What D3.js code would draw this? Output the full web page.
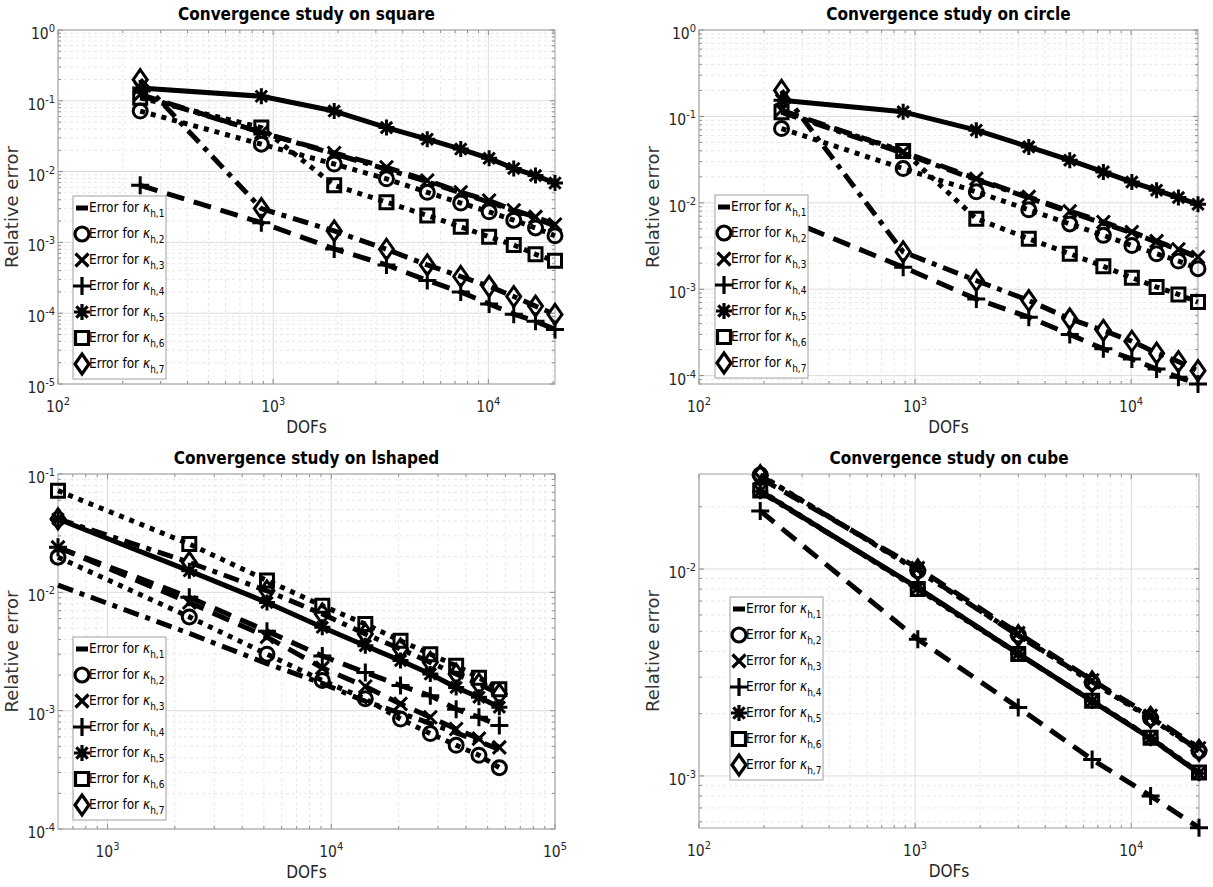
<!DOCTYPE html>
<html>
<head>
<meta charset="utf-8">
<script src="https://cdn.jsdelivr.net/npm/d3@7"></script>
<style>
  body { margin: 0; background: #fff; }
  svg { display: block; }
</style>
</head>
<body>
<svg id="fig" width="1213" height="887"></svg>
<script>
// ---- data ----
var dofsSquare = [241, 881, 1921, 3361, 5201, 7441, 10081, 13121, 16561, 20401];
var dofsCircle = [241, 881, 1921, 3361, 5201, 7441, 10081, 13121, 16561, 20401];
var dofsLshaped = [601, 2321, 5161, 9121, 14201, 20401, 27721, 36161, 45721, 56401];
var dofsCube = [192, 1029, 3000, 6591, 12288, 20577];

// relative error, one row per kappa_{h,1..7}
var errSquare = [
    [0.118, 0.036, 0.0178, 0.0108, 0.0072, 0.005, 0.0037, 0.0028, 0.0022, 0.0017],
    [0.0716, 0.0244, 0.0128, 0.0079, 0.0051, 0.0036, 0.0027, 0.00206, 0.0016, 0.00124],
    [0.123, 0.0356, 0.0183, 0.0115, 0.0075, 0.0051, 0.0039, 0.00284, 0.00229, 0.00179],
    [0.0064, 0.0019, 0.00081, 0.00048, 0.00029, 0.0002, 0.000135, 0.000097, 0.000077, 0.000059],
    [0.152, 0.116, 0.0716, 0.0418, 0.0287, 0.0208, 0.0154, 0.0111, 0.0088, 0.0069],
    [0.11, 0.0418, 0.0064, 0.0037, 0.0024, 0.00166, 0.0012, 0.00092, 0.00068, 0.00055],
    [0.199, 0.003, 0.00145, 0.0008, 0.00048, 0.00033, 0.00024, 0.000172, 0.000126, 0.000096]
];
var errCircle = [
    [0.112, 0.0375, 0.0185, 0.0114, 0.0078, 0.0058, 0.0045, 0.0035, 0.0029, 0.0023],
    [0.0724, 0.0249, 0.0134, 0.0083, 0.0057, 0.0042, 0.0032, 0.00257, 0.00212, 0.00173],
    [0.118, 0.0388, 0.019, 0.0117, 0.008, 0.006, 0.0046, 0.0036, 0.0029, 0.00236],
    [0.0068, 0.0018, 0.00077, 0.000475, 0.0003, 0.000204, 0.000156, 0.000119, 0.0000957, 0.00008],
    [0.154, 0.113, 0.0693, 0.0444, 0.0311, 0.0228, 0.0174, 0.014, 0.0115, 0.0096],
    [0.112, 0.0399, 0.00655, 0.00384, 0.00257, 0.00184, 0.00136, 0.00106, 0.00087, 0.00071],
    [0.2, 0.0027, 0.00126, 0.00074, 0.000454, 0.000333, 0.00025, 0.000182, 0.000145, 0.000114]
];
var errLshaped = [
    [0.0115, 0.0045, 0.0025, 0.0017, 0.0012, 0.00095, 0.00078, 0.00065, 0.00055, 0.00047],
    [0.0198, 0.0062, 0.003, 0.0018, 0.00126, 0.00085, 0.00064, 0.00051, 0.00042, 0.00033],
    [0.024, 0.0082, 0.0042, 0.0023, 0.0016, 0.00114, 0.00088, 0.0007, 0.00058, 0.00049],
    [0.024, 0.0091, 0.0047, 0.0029, 0.0021, 0.00163, 0.00134, 0.00103, 0.00088, 0.00075],
    [0.0417, 0.0152, 0.0082, 0.00506, 0.00354, 0.00265, 0.00204, 0.00157, 0.0013, 0.00107],
    [0.0723, 0.0256, 0.0126, 0.0077, 0.0054, 0.0039, 0.003, 0.0024, 0.0019, 0.00152],
    [0.0417, 0.0179, 0.0103, 0.00656, 0.00445, 0.00332, 0.00256, 0.00204, 0.00168, 0.00138]
];
var errCube = [
    [0.0236, 0.0081, 0.0039, 0.0023, 0.00152, 0.00103],
    [0.0285, 0.0098, 0.0048, 0.00283, 0.0019, 0.00132],
    [0.0275, 0.0101, 0.0049, 0.0029, 0.00195, 0.00136],
    [0.0191, 0.00458, 0.00214, 0.0012, 0.0008, 0.000562],
    [0.0238, 0.0081, 0.0039, 0.0023, 0.00152, 0.00103],
    [0.024, 0.008, 0.00388, 0.00231, 0.00153, 0.00104],
    [0.0283, 0.0099, 0.00476, 0.00285, 0.00192, 0.00133]
];

var seriesIds = ["1", "2", "3", "4", "5", "6", "7"];
var titles = ["Convergence study on square", "Convergence study on circle",
              "Convergence study on lshaped", "Convergence study on cube"];
var xTickExp = [[2, 3, 4], [2, 3, 4], [3, 4, 5], [2, 3, 4]];
var yTickExp = [[0, -1, -2, -3, -4, -5], [0, -1, -2, -3, -4], [-1, -2, -3, -4], [-2, -3]];

// ---- styles ----
var lineStyle = ["-.", ":", "--", "--", "-", ":", "-."];
var markerType = ["none", "o", "x", "+", "*", "s", "d"];
var dashes = { "-": null, "--": "18,10", ":": "5,6", "-.": "16,7,5,7" };

var panels = [
    { dofs: dofsSquare, err: errSquare, xDom: [100, 20401], yDom: [1e-5, 1],
      left: 58, top: 30, width: 497, height: 354, legend: { x: 73, y: 196 } },
    { dofs: dofsCircle, err: errCircle, xDom: [100, 20401], yDom: [8.0e-5, 1],
      left: 699, top: 30, width: 499, height: 354, legend: { x: 715, y: 195 } },
    { dofs: dofsLshaped, err: errLshaped, xDom: [601, 1e5], yDom: [1e-4, 1e-1],
      left: 58, top: 474, width: 497, height: 355, legend: { x: 73, y: 637 } },
    { dofs: dofsCube, err: errCube, xDom: [100, 20577], yDom: [5.6e-4, 0.0288],
      left: 699, top: 474, width: 500, height: 354, legend: { x: 730, y: 597 } }
];

var narrow = "'DejaVu Sans Condensed', 'DejaVu Sans', sans-serif";
var svg = d3.select("#fig");
svg.append("rect").attr("width", 1213).attr("height", 887).attr("fill", "white");

function markerPath(type) {
    var p = d3.path();
    if (type === "o") {
        p.moveTo(7, 0); p.arc(0, 0, 7, 0, 2 * Math.PI);
    } else if (type === "x") {
        p.moveTo(-6.5, -6.5); p.lineTo(6.5, 6.5); p.moveTo(-6.5, 6.5); p.lineTo(6.5, -6.5);
    } else if (type === "+") {
        p.moveTo(-9, 0); p.lineTo(9, 0); p.moveTo(0, -9); p.lineTo(0, 9);
    } else if (type === "*") {
        p.moveTo(-8, 0); p.lineTo(8, 0); p.moveTo(0, -8); p.lineTo(0, 8);
        p.moveTo(-5.7, -5.7); p.lineTo(5.7, 5.7); p.moveTo(-5.7, 5.7); p.lineTo(5.7, -5.7);
    } else if (type === "s") {
        p.rect(-6.5, -6.5, 13, 13);
    } else if (type === "d") {
        p.moveTo(0, -10); p.lineTo(7, 0); p.lineTo(0, 10); p.lineTo(-7, 0); p.closePath();
    }
    return p.toString();
}

function decadeValues(dom) {
    var vals = [];
    var lo = Math.floor(Math.log10(dom[0])), hi = Math.ceil(Math.log10(dom[1]));
    for (var e = lo; e <= hi; e++) {
        for (var k = 1; k <= 9; k++) {
            var v = k * Math.pow(10, e);
            if (v >= dom[0] * 0.9999 && v <= dom[1] * 1.0001) vals.push({ v: v, major: k === 1 });
        }
    }
    return vals;
}

function powLabel(sel, exp, size, supSize) {
    sel.append("tspan").text("10");
    sel.append("tspan").attr("dy", -size * 0.45).attr("font-size", supSize).text(exp);
}

panels.forEach(function (cfg, pi) {
    var g = svg.append("g");
    var x = d3.scaleLog().domain(cfg.xDom).range([cfg.left, cfg.left + cfg.width]);
    var y = d3.scaleLog().domain(cfg.yDom).range([cfg.top + cfg.height, cfg.top]);
    var x0 = cfg.left, x1 = cfg.left + cfg.width, y0 = cfg.top + cfg.height, y1 = cfg.top;

    // grid
    var xs = decadeValues(cfg.xDom), ys = decadeValues(cfg.yDom);
    g.selectAll(".gx").data(xs).enter().append("line")
        .attr("x1", d => x(d.v)).attr("x2", d => x(d.v)).attr("y1", y0).attr("y2", y1)
        .attr("stroke", d => d.major ? "#dcdcdc" : "#e8e8e8")
        .attr("stroke-dasharray", d => d.major ? null : "3,3");
    g.selectAll(".gy").data(ys).enter().append("line")
        .attr("y1", d => y(d.v)).attr("y2", d => y(d.v)).attr("x1", x0).attr("x2", x1)
        .attr("stroke", d => d.major ? "#dcdcdc" : "#e8e8e8")
        .attr("stroke-dasharray", d => d.major ? null : "3,3");

    // ticks on all four sides (inward)
    [[y0, -1], [y1, 1]].forEach(function (s) {
        g.selectAll(null).data(xs).enter().append("line")
            .attr("x1", d => x(d.v)).attr("x2", d => x(d.v))
            .attr("y1", s[0]).attr("y2", d => s[0] + s[1] * (d.major ? 5 : 3))
            .attr("stroke", "#8c8c8c");
    });
    [[x0, 1], [x1, -1]].forEach(function (s) {
        g.selectAll(null).data(ys).enter().append("line")
            .attr("y1", d => y(d.v)).attr("y2", d => y(d.v))
            .attr("x1", s[0]).attr("x2", d => s[0] + s[1] * (d.major ? 5 : 3))
            .attr("stroke", "#8c8c8c");
    });
    g.append("rect").attr("x", x0).attr("y", y1).attr("width", cfg.width).attr("height", cfg.height)
        .attr("fill", "none").attr("stroke", "#a0a0a0").attr("stroke-width", 1);

    // tick labels
    xTickExp[pi].forEach(function (e) {
        var t = g.append("text").attr("x", x(Math.pow(10, e))).attr("y", y0 + 28)
            .attr("text-anchor", "middle").attr("font-family", narrow).attr("font-size", 15.5)
            .attr("fill", "#262626");
        powLabel(t, e, 15.5, 11);
    });
    yTickExp[pi].forEach(function (e) {
        var t = g.append("text").attr("x", x0 - 3).attr("y", y(Math.pow(10, e)) + 9)
            .attr("text-anchor", "end").attr("font-family", narrow).attr("font-size", 15.5)
            .attr("fill", "#262626");
        powLabel(t, e, 15.5, 11);
    });

    // axis labels + title
    g.append("text").attr("x", (x0 + x1) / 2).attr("y", y0 + 49).attr("text-anchor", "middle")
        .attr("font-family", narrow).attr("font-size", 17).attr("fill", "#262626").text("DOFs");
    g.append("text").attr("transform", `translate(${x0 - 40},${(y0 + y1) / 2}) rotate(-90)`)
        .attr("text-anchor", "middle").attr("font-family", "'DejaVu Sans', sans-serif")
        .attr("font-size", 18).attr("fill", "#333").text("Relative error");
    g.append("text").attr("x", (x0 + x1) / 2).attr("y", y1 - 10).attr("text-anchor", "middle")
        .attr("font-family", narrow).attr("font-weight", "bold").attr("font-size", 17)
        .attr("fill", "black").text(titles[pi]);

    // series
    var line = d3.line().x(d => x(d[0])).y(d => y(d[1]));
    cfg.err.forEach(function (vals, si) {
        var pts = cfg.dofs.map((d, i) => [d, vals[i]]);
        g.append("path").attr("d", line(pts)).attr("fill", "none").attr("stroke", "black")
            .attr("stroke-width", 5).attr("stroke-linejoin", "round")
            .attr("stroke-dasharray", dashes[lineStyle[si]]);
        if (markerType[si] !== "none") {
            g.selectAll(null).data(pts).enter().append("path")
                .attr("transform", d => `translate(${x(d[0])},${y(d[1])})`)
                .attr("d", markerPath(markerType[si]))
                .attr("fill", "none").attr("stroke", "black").attr("stroke-width", 3);
        }
    });

    // legend
    var lg = g.append("g").attr("transform", `translate(${cfg.legend.x},${cfg.legend.y})`);
    lg.append("rect").attr("width", 93).attr("height", 183).attr("fill", "white")
        .attr("stroke", "#a0a0a0").attr("stroke-width", 1);
    var rows = lg.selectAll(".row").data(seriesIds).enter().append("g")
        .attr("transform", (d, i) => `translate(0,${12 + i * 26})`);
    rows.each(function (d, i) {
        var r = d3.select(this);
        if (markerType[i] === "none") {
            r.append("rect").attr("x", 3).attr("y", -2.5).attr("width", 12).attr("height", 5).attr("fill", "black");
        } else {
            r.append("path").attr("transform", "translate(9,0)").attr("d", markerPath(markerType[i]))
                .attr("fill", "none").attr("stroke", "black").attr("stroke-width", 3.2);
        }
        var t = r.append("text").attr("x", 16).attr("y", 4).attr("font-family", narrow)
            .attr("font-size", 13.5).attr("fill", "black");
        t.append("tspan").text("Error for ");
        t.append("tspan").attr("font-style", "italic").text("κ");
        t.append("tspan").attr("dy", 5).attr("font-size", 10).text("h," + d);
    });
});
</script>
</body>
</html>
